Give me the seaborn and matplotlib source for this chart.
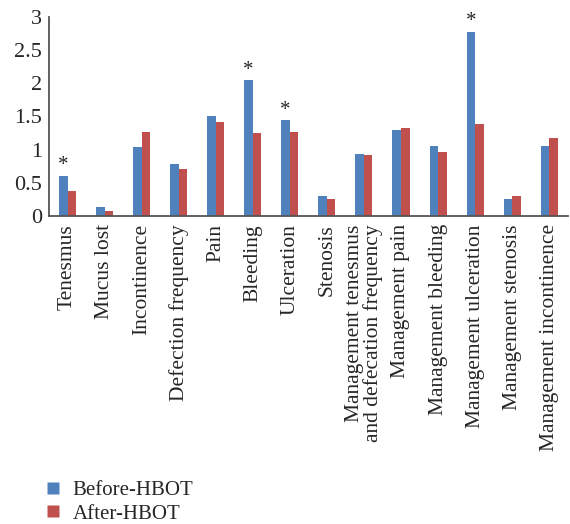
import matplotlib
matplotlib.use("Agg")
import matplotlib.pyplot as plt
from matplotlib.lines import Line2D
from matplotlib.ticker import FixedLocator, NullFormatter
import seaborn as sns
import pandas as pd

categories = ["Tenesmus", "Mucus lost", "Incontinence", "Defection frequency", "Pain",
              "Bleeding", "Ulceration", "Stenosis",
              "Management tenesmus\nand defecation frequency", "Management pain",
              "Management bleeding", "Management ulceration", "Management stenosis",
              "Management incontinence"]
before = [0.60, 0.135, 1.04, 0.78, 1.51, 2.04, 1.44, 0.30, 0.93, 1.30, 1.06, 2.77, 0.25, 1.06]
after = [0.376, 0.075, 1.26, 0.70, 1.42, 1.25, 1.26, 0.25, 0.91, 1.33, 0.96, 1.39, 0.30, 1.17]
series = ["Before-HBOT", "After-HBOT"]
significant = ["Tenesmus", "Bleeding", "Ulceration", "Management ulceration"]
yticks = [0, 0.5, 1, 1.5, 2, 2.5, 3]
ytick_labels = ["0", "0.5", "1", "1.5", "2", "2.5", "3"]

colors = ["#4F81BD", "#C0504D"]

df = pd.DataFrame({
    "category": categories * 2,
    "value": before + after,
    "group": [series[0]] * len(categories) + [series[1]] * len(categories),
})

sns.set_style("white")
plt.rcParams["font.family"] = ["Liberation Serif", "DejaVu Serif"]

fig = plt.figure(figsize=(5.7, 5.24), dpi=100)
ax = fig.add_axes([0.086, 0.588, 0.91, 0.38])

sns.barplot(data=df, x="category", y="value", hue="group", order=categories,
            hue_order=series, palette=colors, width=0.46, gap=0, ax=ax,
            legend=False, saturation=1, edgecolor="none")

ax.set_xlim(-0.5, len(categories) - 0.5)
ax.set_ylim(0, 3)
ax.set_yticks(yticks)
ax.set_yticklabels(ytick_labels, fontsize=16)
ax.set_xticks(range(len(categories)))
ax.set_xticklabels(categories, rotation=90, fontsize=15.5, ma="right", linespacing=0.95)
ax.tick_params(axis="x", which="major", length=0, pad=6)
ax.tick_params(axis="y", length=0, pad=5)
ax.xaxis.set_minor_locator(FixedLocator([i + 0.5 for i in range(len(categories) - 1)] + [-0.5]))
ax.xaxis.set_minor_formatter(NullFormatter())
ax.tick_params(axis="x", which="minor", length=4, width=1.2, color="#333333", direction="out")
ax.set_xlabel("")
ax.set_ylabel("")
for s in ["top", "right"]:
    ax.spines[s].set_visible(False)
for s in ["left", "bottom"]:
    ax.spines[s].set_color("#555555")
    ax.spines[s].set_linewidth(1.3)

# Asterisks above the before-bars of significant items
n = len(categories)
before_bars = ax.patches[:n]
for cat, bar in zip(categories, before_bars):
    if cat in significant:
        x = bar.get_x() + bar.get_width() / 2
        ax.text(x, bar.get_height() + 0.01, "*", ha="center", va="bottom", fontsize=15)

handles = [Line2D([0], [0], marker="s", color="none", markerfacecolor=c,
                  markeredgecolor="none", markersize=8) for c in colors]
fig.legend(handles, series, loc="upper left", bbox_to_anchor=(0.063, 0.099), frameon=False,
           fontsize=15, handlelength=0.8, handletextpad=0.55, labelspacing=0.2,
           borderaxespad=0)

fig.savefig("out.png", dpi=100)
